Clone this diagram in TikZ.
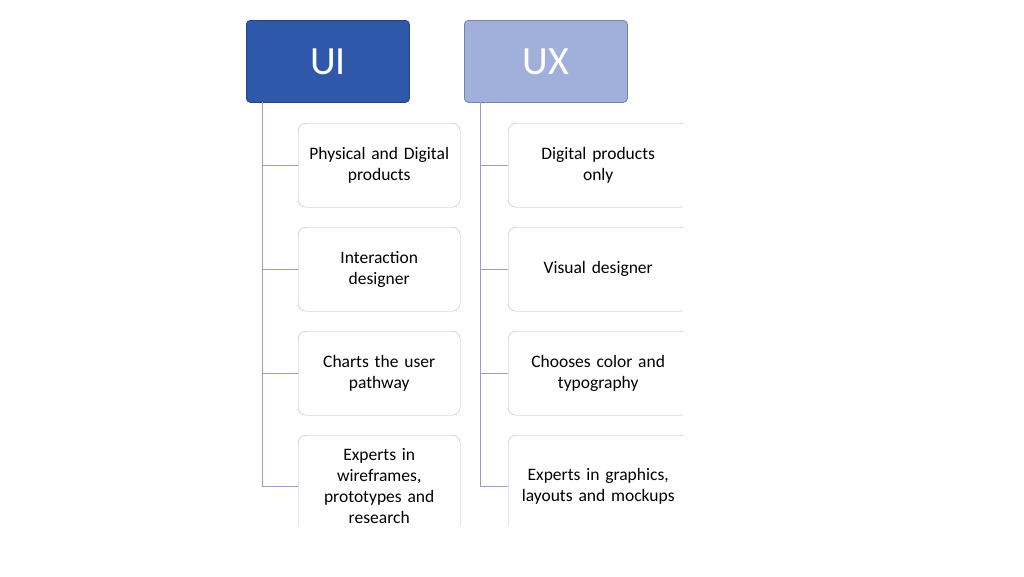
\documentclass[tikz,border=0pt]{standalone}
\usepackage{fontspec}
\setmainfont{Carlito}
\begin{document}
\begin{tikzpicture}[x=1pt,y=-1pt,
  head/.style={draw=#1!75!black,fill=#1,rounded corners=4pt,minimum width=163pt,minimum height=82pt,anchor=north west,text=white,font=\fontsize{40}{40}\selectfont,line width=0.8pt},
  item/.style={draw=gray!55,fill=white,rounded corners=8pt,minimum height=84pt,anchor=north west,align=center,font=\fontsize{17.5}{21}\selectfont,inner sep=1pt},
  conn/.style={draw=gray!70!blue!60,line width=1pt}]
\useasboundingbox (0,0) rectangle (1024,576);
\fill[white] (0,0) rectangle (1024,576);
\definecolor{uiblue}{RGB}{47,88,170}
\definecolor{uxblue}{RGB}{160,176,218}
\begin{scope}
\clip (0,0) rectangle (683,525);
\node[head=uiblue] (ui) at (246,20) {UI};
\node[head=uxblue] (ux) at (464,20) {UX};
\node[item,minimum width=160pt,text width=160pt] (a1) at (298,123) {Physical and Digital\\products};
\node[item,minimum width=162pt,text width=160pt] (a2) at (298,227) {Interaction\\designer};
\node[item,minimum width=162pt,text width=160pt] (a3) at (298,331) {Charts the user\\pathway};
\node[item,minimum width=162pt,text width=160pt,minimum height=102pt] (a4) at (298,435) {Experts in\\wireframes,\\prototypes and\\research};
\node[item,minimum width=180pt,text width=176pt] (b1) at (508,123) {Digital products\\only};
\node[item,minimum width=180pt,text width=176pt] (b2) at (508,227) {Visual designer};
\node[item,minimum width=180pt,text width=176pt] (b3) at (508,331) {Chooses color and\\typography};
\node[item,minimum width=180pt,text width=176pt,minimum height=102pt] (b4) at (508,435) {Experts in graphics,\\layouts and mockups};
\end{scope}
\coordinate (ut) at (262,102);
\coordinate (xt) at (480,102);
\draw[conn] (ut) |- (a4.west);
\foreach \n in {a1,a2,a3} \draw[conn] (ut |- \n.west) -- (\n.west);
\draw[conn] (xt) |- (b4.west);
\foreach \n in {b1,b2,b3} \draw[conn] (xt |- \n.west) -- (\n.west);
\end{tikzpicture}
\end{document}
